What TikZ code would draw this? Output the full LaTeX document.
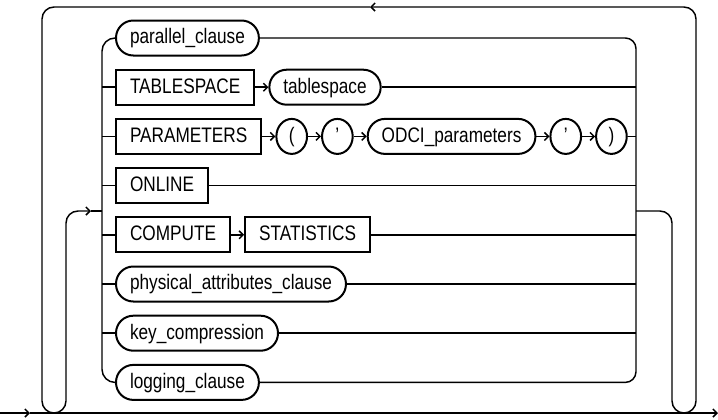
\documentclass[tikz,border=0pt]{standalone}
\usepackage{fontspec}
\setmainfont{Liberation Sans}[FakeStretch=0.82]
\usetikzlibrary{arrows.meta, positioning, shapes.geometric}

\begin{document}
\begin{tikzpicture}[x=0.75pt, y=-0.75pt, font=\fontsize{15.75}{18}\selectfont,
  node distance=9.75pt,
  kw/.style={rectangle, draw, line width=1.5pt, minimum height=26.25pt, inner xsep=10.5pt, inner ysep=0pt, text height=11.3pt, text depth=2.6pt},
  ref/.style={kw, rounded corners=13pt},
  sym/.style={ellipse, draw, line width=1.5pt, minimum width=23pt, minimum height=26.25pt, inner sep=0pt, text height=11.3pt, text depth=2.6pt},
  rail/.style={line width=1.1pt},
  flow/.style={rail, -{Straight Barb[length=3pt, width=6pt]}}
]
  \useasboundingbox (0,0) rectangle (718,419);
  \coordinate (L) at (102,211); \coordinate (R) at (636,211);
  \coordinate (in) at (0,413);  \coordinate (inA) at (30,413); \coordinate (out) at (718,413);
  \coordinate (back) at (370,7); \coordinate (entA) at (91,211);

  \node[ref, anchor=west] (par)  at (115,38)    {parallel\_clause};
  \node[kw,  anchor=west] (tsk)  at (115,87.2)  {TABLESPACE};
  \node[ref, right=of tsk] (tsn) {tablespace};
  \node[kw,  anchor=west] (prm)  at (115,136.4) {PARAMETERS};
  \node[sym, right=of prm] (lp)   {(};
  \node[sym, right=of lp]  (q1)   {'};
  \node[ref, right=of q1]  (odci) {ODCI\_parameters};
  \node[sym, right=of odci] (q2)  {'};
  \node[sym, right=of q2]  (rp)   {)};
  \node[kw,  anchor=west] (onl)  at (115,185.6) {ONLINE};
  \node[kw,  anchor=west] (cmp)  at (115,234.8) {COMPUTE};
  \node[kw,  right=of cmp] (sta) {STATISTICS};
  \node[ref, anchor=west] (phy)  at (115,284)   {physical\_attributes\_clause};
  \node[ref, anchor=west] (key)  at (115,333.2) {key\_compression};
  \node[ref, anchor=west] (log)  at (115,382.4) {logging\_clause};

  \draw[flow] (tsk) -- (tsn);
  \draw[flow] (prm) -- (lp);  \draw[flow] (lp) -- (q1);  \draw[flow] (q1) -- (odci);
  \draw[flow] (odci) -- (q2); \draw[flow] (q2) -- (rp);
  \draw[flow] (cmp) -- (sta);

  \draw[rail, rounded corners=9.75pt] (par.west) -- (L |- par.west) -- (L |- log.west) -- (log.west);
  \draw[rail, rounded corners=8pt] (par.east) -- (R |- par.east) -- (R |- log.east) -- (log.east);
  \foreach \n in {tsk,prm,onl,cmp,phy,key} \draw[rail] (L |- \n.west) -- (\n.west);
  \foreach \n in {tsn,rp,onl,sta,phy,key} \draw[rail] (\n.east) -- (R |- \n.east);

  \draw[flow] (in) -- (inA);
  \draw[flow] (inA) -- (out);
  \draw[flow, rounded corners=9pt] (R) -- (672,211) -- (672,413) -- (696,413) -- (696,7) -- (back);
  \draw[flow, rounded corners=9pt] (back) -- (42,7) -- (42,413) -- (66,413) -- (66,211) -- (entA);
  \draw[rail] (entA) -- (L);
\end{tikzpicture}
\end{document}
